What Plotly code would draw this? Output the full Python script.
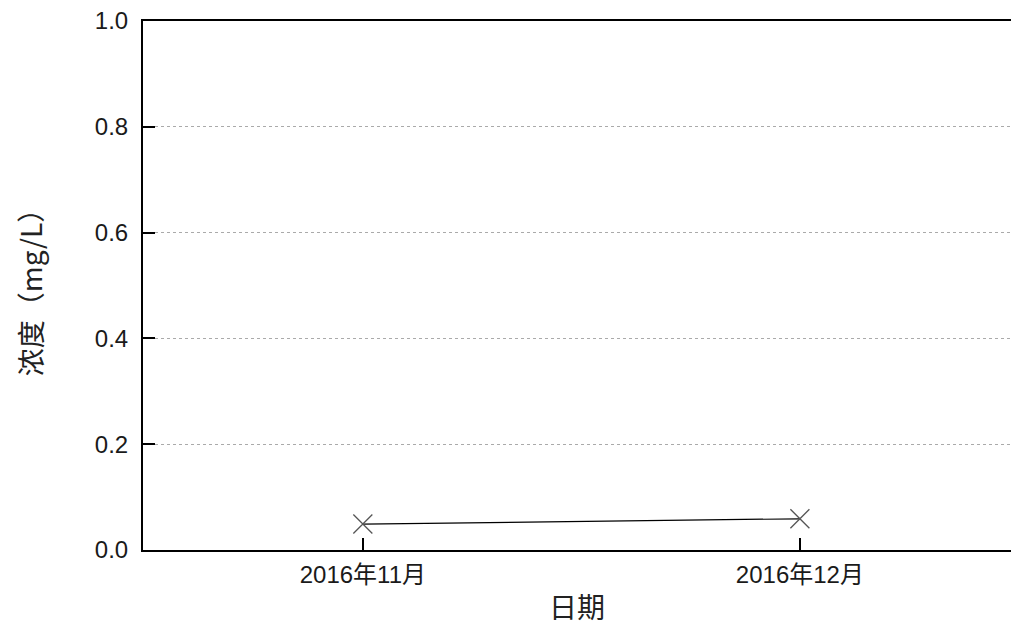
import plotly.graph_objects as go

dates = ["2016年11月", "2016年12月"]
concentration = [0.049, 0.059]
y_ticks = [0.0, 0.2, 0.4, 0.6, 0.8, 1.0]

fig = go.Figure()
fig.add_trace(go.Scatter(
    x=[0, 1], y=concentration, mode="lines",
    line=dict(color="black", width=1.2), hoverinfo="skip", showlegend=False))
fig.add_trace(go.Scatter(
    x=[0, 1], y=concentration, mode="markers",
    marker=dict(symbol="x-thin-open", size=19, color="#555555",
                line=dict(color="#555555", width=1.3)),
    showlegend=False))

fig.update_layout(
    width=1011, height=628,
    margin=dict(l=143, r=0, t=21, b=78),
    plot_bgcolor="white", paper_bgcolor="white",
    font=dict(family="Liberation Sans, Arial, sans-serif", color="black"),
    xaxis=dict(
        range=[-0.503, 1.483],
        tickmode="array", tickvals=[0, 1], ticktext=dates,
        ticks="inside", ticklen=12, tickwidth=2, tickcolor="black",
        ticklabelstandoff=2,
        showline=True, linecolor="black", linewidth=2, mirror=True,
        showgrid=False, zeroline=False,
        tickfont=dict(size=24, family="Liberation Sans, Noto Sans CJK SC", color="#1a1a1a"),
        title=dict(text="日期", font=dict(size=28, family="Noto Sans CJK SC", color="#222222"), standoff=12),
    ),
    yaxis=dict(
        range=[0, 1.0],
        tickmode="array", tickvals=y_ticks, ticktext=[f"{v:.1f}" for v in y_ticks],
        ticks="inside", ticklen=12, tickwidth=2, tickcolor="black",
        ticklabelstandoff=8,
        showline=True, linecolor="black", linewidth=2,
        showgrid=True, gridcolor="#aaaaaa", gridwidth=1, griddash="dot",
        zeroline=False,
        tickfont=dict(size=24, color="#1a1a1a"),
        title=dict(text="浓度（mg/L）", font=dict(size=28, family="Noto Sans CJK SC", color="#222222"), standoff=44),
    ),
)

fig.write_html("out.html", config={"displayModeBar": False},
               post_script="document.body.style.margin='0';document.body.style.overflow='hidden';")
